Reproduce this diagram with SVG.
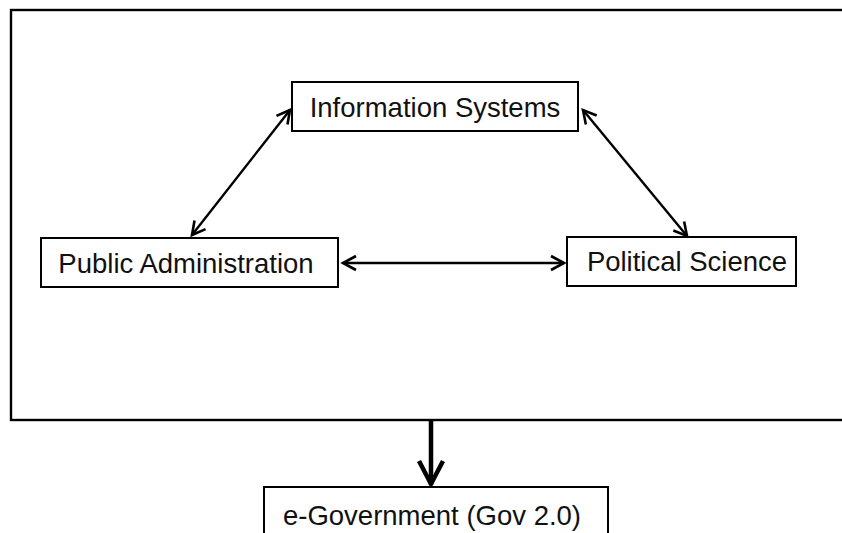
<svg xmlns="http://www.w3.org/2000/svg" width="842" height="533" viewBox="0 0 842 533">
<defs>
<style>
.box{fill:#fff;stroke:#000;stroke-width:2}
.lbl{font-family:"Liberation Sans",Arial,sans-serif;font-size:27.5px;fill:#111;text-anchor:middle}
.con{stroke:#000;stroke-width:2.4;fill:none}
</style>
<marker id="ah" viewBox="-16 -10 20 20" markerWidth="20" markerHeight="20" refX="0" refY="0" markerUnits="userSpaceOnUse" orient="auto-start-reverse">
<path d="M-13,-7 L0,0 L-13,7" fill="none" stroke="#000" stroke-width="2.6"/>
</marker>
<marker id="ahb" viewBox="-30 -16 34 32" markerWidth="34" markerHeight="32" refX="0" refY="0" markerUnits="userSpaceOnUse" orient="auto">
<path d="M-24,-12 L-1,0 L-24,12" fill="none" stroke="#000" stroke-width="4.5"/>
</marker>
</defs>
<rect id="frame" x="11" y="10" width="845" height="410" fill="none" stroke="#000" stroke-width="2.4"/>
<g id="connectors">
<line class="con" x1="192" y1="235" x2="290" y2="110" marker-start="url(#ah)" marker-end="url(#ah)"/>
<line class="con" x1="583" y1="110" x2="687" y2="236" marker-start="url(#ah)" marker-end="url(#ah)"/>
<line class="con" x1="343" y1="263" x2="564" y2="263" marker-start="url(#ah)" marker-end="url(#ah)"/>
<line x1="431" y1="421" x2="431" y2="485" stroke="#000" stroke-width="4.5" marker-end="url(#ahb)"/>
</g>
<g id="information-systems">
<rect class="box" x="292" y="82" width="286" height="49"/>
<text class="lbl" x="435" y="117">Information Systems</text>
</g>
<g id="public-administration">
<rect class="box" x="41" y="238" width="297" height="49"/>
<text class="lbl" x="186" y="273">Public Administration</text>
</g>
<g id="political-science">
<rect class="box" x="567" y="237" width="229" height="49"/>
<text class="lbl" x="687" y="271">Political Science</text>
</g>
<g id="e-government">
<rect class="box" x="264" y="487" width="344" height="60"/>
<text class="lbl" x="432" y="525">e-Government (Gov 2.0)</text>
</g>
</svg>
